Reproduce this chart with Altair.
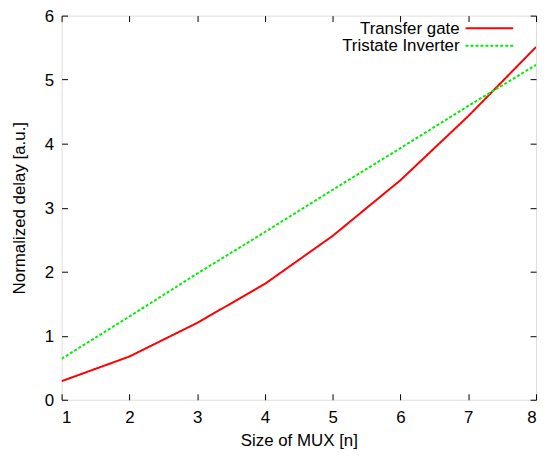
import altair as alt
import pandas as pd

mux_size = [1, 2, 3, 4, 5, 6, 7, 8]
transfer_gate = [0.29, 0.675, 1.20, 1.81, 2.56, 3.43, 4.43, 5.51]
tristate_inv = [0.64, 1.30, 1.97, 2.62, 3.28, 3.93, 4.59, 5.23]
series_names = ["Transfer gate", "Tristate Inverter"]
series_colors = ["#ff0000", "#00ee00"]
series_dash = [[1, 0], [3, 2]]
x_ticks = [1, 2, 3, 4, 5, 6, 7, 8]
y_ticks = [0, 1, 2, 3, 4, 5, 6]

rows = []
for name, vals in zip(series_names, [transfer_gate, tristate_inv]):
    for x, v in zip(mux_size, vals):
        rows.append({"n": x, "delay": v, "series": name})
df = pd.DataFrame(rows)

FONT = "Liberation Sans"
FS = 17
W, H = 478, 387

xscale = alt.Scale(domain=[1, 8], nice=False, zero=False)
yscale = alt.Scale(domain=[0, 6], nice=False)

common_axis = dict(grid=False, domain=False, tickSize=6, offset=-6,
                   tickColor="black", tickWidth=1)

lines = alt.Chart(df).mark_line(strokeWidth=2, clip=True).encode(
    x=alt.X("n:Q", scale=xscale,
            axis=alt.Axis(title="Size of MUX [n]", values=x_ticks, labelPadding=10,
                          titlePadding=7, labelFont=FONT, titleFont=FONT,
                          labelFontSize=FS, titleFontSize=FS, titleFontWeight="normal",
                          labelColor="black", titleColor="black", **common_axis)),
    y=alt.Y("delay:Q", scale=yscale,
            axis=alt.Axis(title="Normalized delay [a.u.]", values=y_ticks, labelPadding=8,
                          labelOffset=1,
                          titlePadding=16, labelFont=FONT, titleFont=FONT,
                          labelFontSize=FS, titleFontSize=FS, titleFontWeight="normal",
                          labelColor="black", titleColor="black", **common_axis)),
    color=alt.Color("series:N", scale=alt.Scale(domain=series_names, range=series_colors),
                    legend=None),
    strokeDash=alt.StrokeDash("series:N",
                              scale=alt.Scale(domain=series_names, range=series_dash),
                              legend=None),
)

mirror = alt.Chart(df).mark_line(opacity=0).encode(
    x=alt.X("n:Q", scale=xscale,
            axis=alt.Axis(orient="top", labels=False, title=None, values=x_ticks, **common_axis)),
    y=alt.Y("delay:Q", scale=yscale,
            axis=alt.Axis(orient="right", labels=False, title=None, values=y_ticks, **common_axis)),
)

legend_layers = []
line_ys = [12.7, 30.3]
text_ys = [18.7, 36.0]
for i, name in enumerate(series_names):
    ldf = pd.DataFrame({"series": [name]})
    legend_layers.append(
        alt.Chart(ldf).mark_text(align="right", baseline="alphabetic", font=FONT,
                                 fontSize=FS, color="black").encode(
            text="series:N", x=alt.value(401), y=alt.value(text_ys[i]))
    )
    legend_layers.append(
        alt.Chart(ldf).mark_rule(strokeWidth=2, color=series_colors[i],
                                 strokeDash=series_dash[i]).encode(
            x=alt.value(407), x2=alt.value(455), y=alt.value(line_ys[i]))
    )

chart = alt.layer(lines, mirror, *legend_layers).resolve_axis(
    x="independent", y="independent"
).properties(
    width=W, height=H,
    autosize=alt.AutoSizeParams(type="none"),
    padding={"left": 54, "top": 6, "right": 5, "bottom": 55},
).configure_view(stroke="black", strokeWidth=1).configure(background="white")

chart.save("out.html", embed_options={"renderer": "svg", "actions": False})
